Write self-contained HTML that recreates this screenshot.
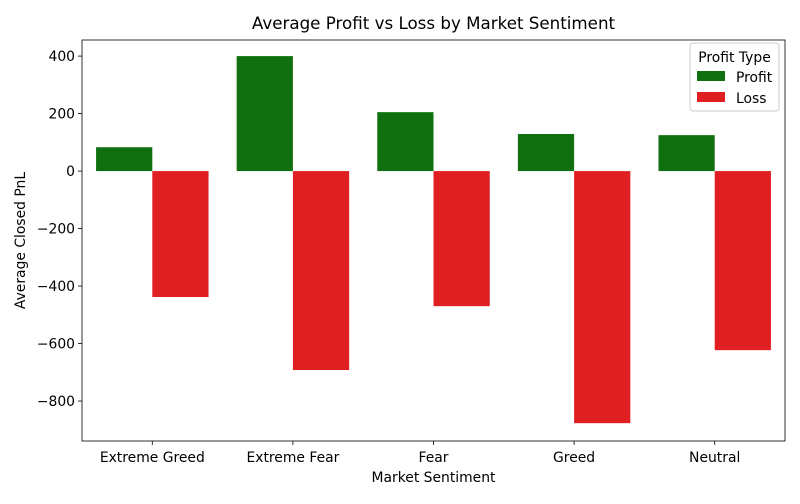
<!DOCTYPE html>
<html><head><meta charset="utf-8"><style>
body{margin:0;background:#fff;font-family:"DejaVu Sans",sans-serif}
</style></head><body>
<svg id="c" width="800" height="500" xmlns="http://www.w3.org/2000/svg" font-family="DejaVu Sans, sans-serif"></svg>
<script>
const categories=["Extreme Greed","Extreme Fear","Fear","Greed","Neutral"];
const profitValues=[83,400,205,129,125];
const lossValues=[-438,-692,-470,-877,-623];
const yTicks=[400,200,0,-200,-400,-600,-800];
const L=82,R=785,T=40,B=441,yMax=456,yMin=-939;
const svg=document.getElementById('c');const NS="http://www.w3.org/2000/svg";
function y(v){return T+(yMax-v)/(yMax-yMin)*(B-T);}
const bw=(R-L)/categories.length;
function x(i){return L+bw*(i+0.5);}
function el(t,a,txt){const e=document.createElementNS(NS,t);for(const k in a)e.setAttribute(k,a[k]);if(txt!=null)e.textContent=txt;svg.appendChild(e);return e;}
const FS=13.9;
categories.forEach((c,i)=>{
 const w=bw*0.4;
 let p=el('rect',{x:x(i)-w,y:Math.min(y(profitValues[i]),y(0)),width:w,height:Math.abs(y(profitValues[i])-y(0)),fill:'#107010'});
 
 
 let l=el('rect',{x:x(i),y:Math.min(y(lossValues[i]),y(0)),width:w,height:Math.abs(y(lossValues[i])-y(0)),fill:'#e01f22'});
 
 
 el('line',{x1:x(i),x2:x(i),y1:B,y2:B+4,stroke:'#000','stroke-width':0.8});
 let t=el('text',{x:x(i),y:B+21,'text-anchor':'middle','font-size':FS,fill:'#000'},c);
 
 
});
yTicks.forEach(v=>{
 el('line',{x1:L-4,x2:L,y1:y(v),y2:y(v),stroke:'#000','stroke-width':0.8});
 let t=el('text',{x:L-7,y:y(v)+5,'text-anchor':'end','font-size':FS,fill:'#000'},String(v).replace('-','\u2212'));
 
 
});
let f=el('rect',{x:L,y:T,width:R-L,height:B-T,fill:'none',stroke:'#000','stroke-width':0.8});

let tt=el('text',{x:(L+R)/2,y:29,'text-anchor':'middle','font-size':16.7,fill:'#000'},'Average Profit vs Loss by Market Sentiment');

let xt=el('text',{x:(L+R)/2,y:482,'text-anchor':'middle','font-size':FS,fill:'#000'},'Market Sentiment');

let yt=el('text',{x:25,y:(T+B)/2,'text-anchor':'middle','font-size':FS,fill:'#000',transform:'rotate(-90 25 '+((T+B)/2)+')'},'Average Closed PnL');

let lg=el('rect',{x:690,y:43,width:89,height:68,rx:3,fill:'#fff','fill-opacity':0.8,stroke:'#ccc'});

el('text',{x:734.5,y:62,'text-anchor':'middle','font-size':FS,fill:'#000'},'Profit Type');
el('rect',{x:697,y:71,width:28,height:10,fill:'#107010'});
let e1=el('text',{x:736,y:82,'font-size':FS,fill:'#000'},'Profit');

el('rect',{x:697,y:92,width:28,height:10,fill:'#e01f22'});
let e2=el('text',{x:736,y:103,'font-size':FS,fill:'#000'},'Loss');

</script>
</body></html>
